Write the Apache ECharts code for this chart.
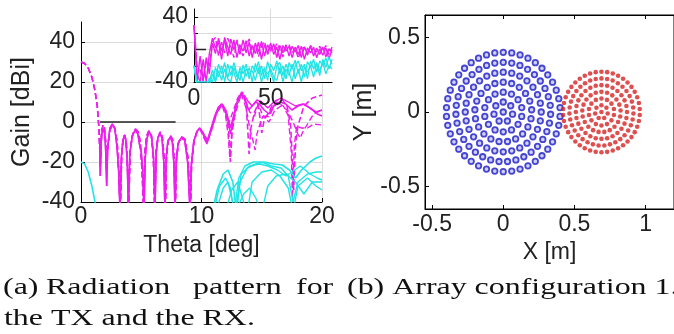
<!DOCTYPE html>
<html><head><meta charset="utf-8">
<script src="https://cdn.jsdelivr.net/npm/echarts@6/dist/echarts.min.js"></script>
<style>html,body{margin:0;padding:0;background:#fff}#c{width:674px;height:334px}</style>
</head><body><div id="c"></div>
<script>
// ---------------- main plot (0..20 deg) ----------------
const txCoreAtheta = [1.55,1.6,1.68,1.78,1.88,1.98,2.06,2.13,2.22,2.4,2.6,2.8,2.98,3.12,3.24,3.35,3.48,3.6,3.72,3.84,3.93,4.05,4.25,4.5,4.72,4.88,5.0,5.12,5.23,5.33,5.48,5.66,5.85,6.02,6.14,6.24,6.38,6.55,6.72,6.87,6.97,7.07,7.2,7.4,7.58,7.72,7.8,7.9,8.05,8.3,8.6,8.85,9.05,9.15,9.35,9.6,9.85,10.0];
const txCoreAgain  = [-8,-27,-10,-3,-2,-6,-16,-32,-12,-3,-1,-3,-12,-24,-45,-18,-9,-7,-9,-20,-45,-16,-7,-4,-6,-12,-15,-24,-45,-18,-8,-5,-7,-18,-45,-16,-8,-5.5,-8,-20,-45,-18,-10,-7.5,-10,-22,-45,-20,-11,-8,-9,-20,-45,-22,-10,-5,-3,-4];
const txCoreBtheta = [0,0.3,0.6,0.9,1.15,1.35,1.5,1.6,1.7,1.82,1.95,2.05,2.12,2.2,2.4,2.62,2.82,3.0,3.15,3.26,3.38,3.5,3.63,3.76,3.87,3.95,4.08,4.3,4.52,4.75,4.92,5.08,5.2,5.3,5.45,5.62,5.82,6.0,6.12,6.22,6.38,6.58,6.75,6.9,7.0,7.1,7.25,7.45,7.62,7.74,7.82,7.93,8.1,8.35,8.62,8.88,9.08,9.18,9.4,9.65,9.88,10.0];
const txCoreBgain  = [30,29.3,27,22.5,16,8,-4,-22,-6,-1.5,-3,-10,-24,-14,-4,-1.5,-3.5,-10,-26,-45,-16,-8,-6.5,-10,-24,-45,-14,-6,-3.5,-5,-10,-26,-45,-15,-7,-4.5,-6,-16,-45,-15,-8,-5,-7.5,-18,-45,-17,-9,-7,-9,-20,-45,-18,-10,-7.5,-8.5,-18,-45,-20,-9,-4.5,-3.5,-3.5];

const tx1Theta = [10.2,10.4,10.6,10.8,11.1,11.4,11.7,12.0,12.2,12.4,12.7,13.0,13.3,13.6,13.9,14.2,14.5,14.8,15.2,15.6,16.0,16.5,17.0,17.5,18.0,18.5,19.0,19.5,20];
const tx1Gain  = [-7,-10,-7,-3,3,7.5,9,6,2,-3,4,11,14.5,12,6,8,10,9,6,4,8,10,9,6,8,9,7,5,6];
const tx2Theta = [10.2,10.45,10.7,11.0,11.3,11.6,11.9,12.15,12.4,12.7,13.0,13.3,13.6,13.9,14.2,14.6,15.0,15.5,16.0,16.6,17.2,17.8,18.4,19.0,19.6,20];
const tx2Gain  = [-6,-11,-6,0,5,8,7,2,-6,3,10,13.5,13,10,8,11,10,7,10,12,10,8,9,7,4,3];
const tx3Theta = [10.2,10.4,10.6,10.9,11.3,11.7,12.0,12.25,12.4,12.55,12.8,13.1,13.4,13.7,13.85,13.95,14.1,14.4,14.7,14.9,15.0,15.2,15.6,16.0,16.6,17.1,17.4,17.55,17.65,17.8,18.0,18.5,19.2,20];
const tx3Gain  = [-7,-11,-8,-2,6,9.5,5,-4,-20,-4,6,12,15,9,-5,-16,-3,5,9,0,-5.5,1,5,10,12,8,-2,-20,-34,-12,-2,8,12,13.5];
const tx4Theta = [10.2,10.5,10.8,11.2,11.7,12.0,12.2,12.35,12.5,12.8,13.3,13.7,14.0,14.3,14.45,14.6,14.8,15.1,15.6,16.1,16.6,17.1,17.6,18.0,18.2,18.4,18.7,19.3,20];
const tx4Gain  = [-6,-9,-4,4,8.5,3,-6,-18,-6,4,14,7,-3,-10,-14,-6,-2,3,0,6,8,6,0,-6,-8,-5,-2,4,6];
const tx5Theta = [10.2,10.5,10.9,11.3,11.7,12.0,12.3,12.6,13.0,13.3,13.6,14.0,14.4,14.7,15.1,15.6,16.2,16.8,17.2,17.45,17.55,17.7,17.9,18.3,18.8,19.3,20];
const tx5Gain  = [-8,-10,-3,5,9,6,0,5,12,15,11,5,3,9,3,2.7,10,8,3,-15,-38,-12,-2,-3,-3,-1,-1.5];

const rxCoreTheta = [0,0.3,0.6,0.9,1.1,1.3];
const rxCoreGain  = [-20,-21,-25,-32,-38,-45];
const rx1Theta = [10.9,11.3,11.8,12.2,12.6,12.9,13.2,13.8,14.5,15.2,16.0,16.7,17.3,17.8,18.3,19.0,19.5,20];
const rx1Gain  = [-45,-34,-26,-24,-30,-45,-30,-23,-21,-20,-21,-21.5,-24,-28,-24,-20,-18,-17];
const rx2Theta = [11.0,11.5,12.0,12.4,12.7,13.1,13.6,14.3,15.0,15.8,16.6,17.2,17.6,18.0,18.8,19.5,20];
const rx2Gain  = [-45,-32,-28,-33,-45,-28,-22,-20,-20,-22,-23,-27,-40,-30,-26,-25,-25];
const rx3Theta = [11.2,11.8,12.2,12.5,12.8,13.3,14.0,14.8,15.5,16.3,17.0,17.5,18.2,19.0,19.6,20];
const rx3Gain  = [-45,-33,-30,-38,-45,-26,-22,-21,-22,-24,-27,-25,-22,-26,-28,-29];
const rx4Theta = [12.0,12.5,13.0,13.5,13.8,14.2,15.0,15.8,16.5,17.2,17.6,18.0,18.8,19.5,20];
const rx4Gain  = [-45,-34,-30,-40,-45,-30,-25,-24,-27,-33,-45,-32,-28,-32,-34];
const rx5Theta = [12.8,13.5,14.0,14.5,15.0,15.5,16.2,17.0,17.8,18.5,19.2,20];
const rx5Gain  = [-45,-36,-33,-38,-45,-32,-27,-26,-30,-36,-30,-30];

const maskTheta = [1.58, 7.85];
const maskGain  = [0, 0];

// ---------------- inset (0..90 deg) ----------------
const insetTheta = [0,2,4,6,8,10,12,14,16,18,20,22,24,26,28,30,32,34,36,38,40,42,44,46,48,50,52,54,56,58,60,62,64,66,68,70,72,74,76,78,80,82,84,86,88,90];
const txIn1 = [30,-40,-8,-38,-10,-30,8,-5,14,-2,12,-8,13,0,10,-6,12,-4,9,-10,8,-3,10,-8,6,-2,7,-10,5,-4,6,-8,4,-3,5,-10,3,-5,4,-8,2,-6,3,-9,1,-4];
const txIn2 = [30,-30,-40,-12,-40,-5,14,2,9,-12,15,3,-6,12,-10,6,-2,11,-8,5,-5,9,-12,6,-4,8,-6,3,-12,5,-2,4,-10,3,-6,4,-12,2,-4,3,-10,1,-7,2,-12,0];
const txIn3 = [30,-20,-25,-40,-15,-20,10,15,-8,9,-4,14,4,-10,12,2,-8,5,13,-2,6,-9,4,10,-6,3,-2,8,0,-9,4,6,-4,2,-11,1,3,-7,5,0,-3,4,-2,5,-6,3];
const rxIn1 = [-20,-40,-40,-40,-40,-40,-25,-38,-18,-30,-16,-35,-20,-28,-40,-22,-30,-18,-36,-20,-28,-15,-32,-22,-38,-18,-26,-14,-30,-20,-36,-16,-24,-13,-30,-18,-34,-15,-22,-12,-28,-14,-20,-10,-24,-12];
const rxIn2 = [-20,-45,-45,-45,-45,-35,-40,-22,-34,-20,-40,-18,-32,-16,-30,-38,-19,-33,-22,-40,-17,-30,-20,-36,-15,-28,-40,-20,-16,-32,-18,-28,-40,-20,-14,-26,-18,-36,-14,-24,-16,-32,-12,-22,-9,-18];
const rxIn3 = [-20,-45,-45,-45,-45,-45,-30,-40,-26,-38,-24,-36,-40,-22,-34,-26,-40,-24,-30,-26,-38,-22,-40,-26,-30,-24,-34,-38,-22,-40,-24,-32,-18,-36,-24,-40,-22,-28,-20,-34,-18,-26,-16,-30,-20,-24];

// ---------------- array configuration ----------------
const txCenter = [0, 0];
const rxCenter = [0.69, 0];
const txRingRadius = [0, 0.067, 0.133, 0.2, 0.267, 0.333, 0.4];
const rxRingRadius = [0, 0.045, 0.09, 0.135, 0.18, 0.225, 0.27];
const ringCount = [1, 7, 14, 21, 28, 35, 42];

// ---------------- build ----------------
const MAG = '#ee1fee', CYA = '#22e4e4';
const zip = (xs, ys) => xs.map((x, i) => [x, ys[i]]);
function ringPoints(center, radii, counts) {
  const pts = [];
  radii.forEach((r, i) => {
    for (let j = 0; j < counts[i]; j++) {
      const a = Math.PI / 2 + 2 * Math.PI * j / counts[i];
      pts.push([center[0] + r * Math.cos(a), center[1] + r * Math.sin(a)]);
    }
  });
  return pts;
}
const SANS = 'Liberation Sans';
const labelStyle = { color: '#222', fontSize: 23, fontFamily: SANS };
const nameStyle = { color: '#222', fontSize: 23, fontFamily: SANS };
const blackLine = { onZero: false, lineStyle: { color: '#000', width: 1 } };
const inTick = { inside: true, length: 4, lineStyle: { color: '#000' } };

function line(x, y, xi, dashed, color, width, z) {
  return { type: 'line', xAxisIndex: xi, yAxisIndex: xi, data: zip(x, y), showSymbol: false, symbol: 'none',
    animation: false, z: z, clip: true,
    lineStyle: { color: color, width: width, type: dashed ? [6, 3] : 'solid' } };
}

const series = [
  line(txCoreAtheta.concat(tx1Theta), txCoreAgain.concat(tx1Gain), 0, false, MAG, 1.6, 1),
  line(txCoreAtheta.concat(tx2Theta), txCoreAgain.concat(tx2Gain), 0, false, MAG, 1.4, 1),
  line(txCoreBtheta.concat(tx3Theta), txCoreBgain.concat(tx3Gain), 0, true, MAG, 1.6, 1),
  line(txCoreBtheta.concat(tx4Theta), txCoreBgain.concat(tx4Gain), 0, true, MAG, 1.4, 1),
  line(txCoreBtheta.concat(tx5Theta), txCoreBgain.concat(tx5Gain), 0, true, MAG, 1.4, 1),
  line(rxCoreTheta.concat(rx1Theta), rxCoreGain.concat(rx1Gain), 0, false, CYA, 1.6, 1),
  line(rx2Theta, rx2Gain, 0, false, CYA, 1.4, 1),
  line(rx3Theta, rx3Gain, 0, false, CYA, 1.4, 1),
  line(rx4Theta, rx4Gain, 0, false, CYA, 1.4, 1),
  line(rx5Theta, rx5Gain, 0, false, CYA, 1.4, 1),
  line(maskTheta, maskGain, 0, false, '#222', 1.4, 1),
  line(insetTheta, txIn1, 1, false, MAG, 1.4, 6),
  line(insetTheta, txIn2, 1, false, MAG, 1.4, 6),
  line(insetTheta, txIn3, 1, true, MAG, 1.4, 6),
  line(insetTheta, rxIn1, 1, false, CYA, 1.3, 7),
  line(insetTheta, rxIn2, 1, false, CYA, 1.3, 7),
  line(insetTheta, rxIn3, 1, false, CYA, 1.3, 7),
  line(maskTheta, maskGain, 1, false, '#222', 1.4, 8),
  { type: 'scatter', xAxisIndex: 2, yAxisIndex: 2, data: ringPoints(txCenter, txRingRadius, ringCount), animation: false,
    symbol: 'circle', symbolSize: 5.5, itemStyle: { color: '#c4c4f4', borderColor: '#1c1cc8', borderWidth: 1.8 } },
  { type: 'scatter', xAxisIndex: 2, yAxisIndex: 2, data: ringPoints(rxCenter, rxRingRadius, ringCount), animation: false,
    symbol: 'circle', symbolSize: 4.6, itemStyle: { color: '#d62424' } }
];

const CAP = '24px "Liberation Serif"';
const SX = 1.33;
function cap(text, x, y) {
  return { type: 'text', x: x, y: y, scaleX: SX, z: 100,
    style: { text: text, font: CAP, fill: '#111', verticalAlign: 'middle' } };
}

const option = {
  backgroundColor: '#fff',
  animation: false,
  grid: [
    { left: 81, top: 22, width: 241, height: 180, z: 0 },
    { left: 194, top: 9, width: 138, height: 73, show: true, backgroundColor: '#fff', borderWidth: 0, z: 4 },
    { left: 425, top: 15, width: 262.5, height: 194, show: true, borderColor: '#000', borderWidth: 1 }
  ],
  xAxis: [
    { gridIndex: 0, type: 'value', min: 0, max: 20, interval: 10, axisLine: blackLine, axisTick: inTick,
      axisLabel: Object.assign({ margin: 3 }, labelStyle),
      splitLine: { show: true, showMinLine: false, lineStyle: { color: '#dcdcdc' } },
      name: 'Theta [deg]', nameLocation: 'middle', nameGap: 32, nameTextStyle: nameStyle },
    { gridIndex: 1, type: 'value', min: 0, max: 90, interval: 50, z: 5, axisLine: blackLine, axisTick: inTick,
      axisLabel: Object.assign({ margin: 5, showMaxLabel: false }, labelStyle),
      splitLine: { show: true, showMinLine: false, showMaxLine: false, lineStyle: { color: '#dcdcdc' } } },
    { gridIndex: 2, type: 'value', min: -0.55, max: 1.2, axisLine: blackLine,
      axisTick: Object.assign({ customValues: [-0.5, 0, 0.5, 1] }, inTick),
      axisLabel: Object.assign({ margin: 4, customValues: [-0.5, 0, 0.5, 1] }, labelStyle),
      splitLine: { show: false },
      name: 'X [m]', nameLocation: 'middle', nameGap: 25, nameTextStyle: nameStyle },
    { gridIndex: 2, type: 'value', position: 'top', min: -0.55, max: 1.2, axisLine: blackLine,
      axisTick: Object.assign({ customValues: [-0.5, 0, 0.5, 1] }, inTick),
      axisLabel: { show: false }, splitLine: { show: false } }
  ],
  yAxis: [
    { gridIndex: 0, type: 'value', min: -40, max: 50, interval: 20, axisLine: blackLine, axisTick: inTick,
      axisLabel: Object.assign({ margin: 6, showMaxLabel: false }, labelStyle),
      splitLine: { show: true, showMinLine: false, showMaxLine: false, lineStyle: { color: '#dcdcdc' } },
      name: 'Gain [dBi]', nameLocation: 'middle', nameGap: 46, nameTextStyle: Object.assign({}, nameStyle, { fontSize: 25 }) },
    { gridIndex: 1, type: 'value', min: -40, max: 50, interval: 20, z: 5, axisLine: blackLine, axisTick: inTick,
      axisLabel: Object.assign({ margin: 6, showMaxLabel: false, backgroundColor: '#fff',
        formatter: v => (v % 40 === 0 ? String(v) : '') }, labelStyle),
      splitLine: { show: true, showMinLine: false, showMaxLine: false, lineStyle: { color: '#dcdcdc' } } },
    { gridIndex: 2, type: 'value', min: -0.65, max: 0.65, axisLine: blackLine,
      axisTick: Object.assign({ customValues: [-0.5, 0, 0.5] }, inTick),
      axisLabel: Object.assign({ margin: 5, customValues: [-0.5, 0, 0.5] }, labelStyle),
      splitLine: { show: false },
      name: 'Y [m]', nameLocation: 'middle', nameGap: 42, nameTextStyle: Object.assign({}, nameStyle, { fontSize: 25 }) }
  ],
  series: series,
  graphic: [
    cap('(a)', 3, 288),
    cap('Radiation', 46, 288),
    cap('pattern', 193, 288),
    cap('for', 296, 288),
    cap('the TX and the RX.', 4, 319),
    cap('(b) Array configuration 1.', 347, 288)
  ]
};
const chart = echarts.init(document.getElementById('c'), null, { renderer: 'canvas' });
chart.setOption(option);
</script></body></html>
